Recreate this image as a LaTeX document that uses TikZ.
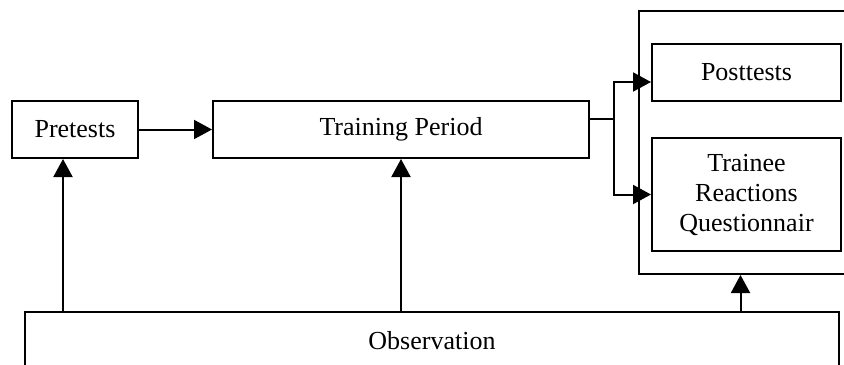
\documentclass[tikz,border=0pt]{standalone}
\usepackage{fontspec}
\setmainfont{Liberation Serif}
\usetikzlibrary{arrows.meta}

\tikzstyle{box} = [rectangle, draw=black, line width=1pt, inner sep=0pt, align=center, font=\fontsize{13}{15}\selectfont]
\tikzstyle{arrow} = [line width=1pt, -{Triangle[length=9pt, width=9.5pt]}]

\begin{document}
\begin{tikzpicture}[x=0.5pt, y=-0.5pt]
        \useasboundingbox (0,0) rectangle (844,364);
        \clip (0,0) rectangle (844,364);
        \node (Results) [box, minimum width=120.5pt, minimum height=131.5pt] at (759.5,142.5) {};
        \node (Pretests) [box, minimum width=63pt, minimum height=28.5pt] at (75,129.5) {Pretests};
        \node (Training Period) [box, minimum width=188pt, minimum height=28.5pt] at (401,129.5) {Training Period};
        \node (Posttests) [box, minimum width=94.5pt, minimum height=28.5pt] at (746.5,72.5) {Posttests};
        \node (Reactions) [box, minimum width=94.5pt, minimum height=56.5pt] at (746.5,194.5) {Trainee\\ Reactions\\ Questionnair};
        \node (Observation) [box, minimum width=407pt, minimum height=29pt] at (432,341) {Observation};
        \coordinate (Split) at (614,119);

        \draw [arrow] (Pretests) -- (Training Period);
        \draw [line width=1pt] (Training Period.east |- Split) -- (Split);
        \draw [arrow] (Split) |- ([yshift=-4.75pt]Posttests.west);
        \draw [arrow] (Split) |- (Reactions.west);
        \draw [arrow] ([xshift=-6pt]Pretests.south |- Observation.north) -- ([xshift=-6pt]Pretests.south);
        \draw [arrow] (Training Period.south |- Observation.north) -- (Training Period.south);
        \draw [arrow] ([xshift=-3pt]Posttests.south |- Observation.north) -- ([xshift=-3pt]Posttests.south |- Results.south);
\end{tikzpicture}
\end{document}
